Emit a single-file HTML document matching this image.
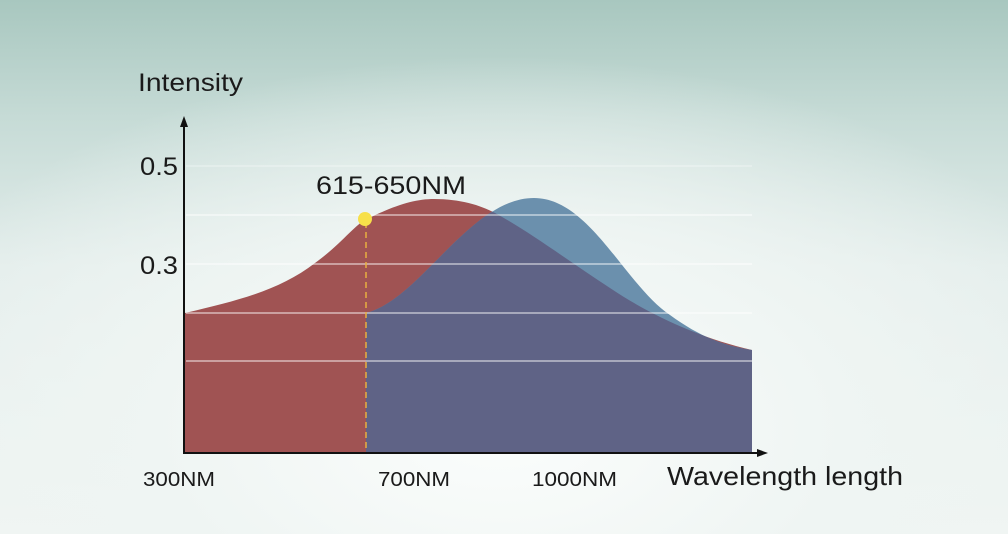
<!DOCTYPE html>
<html><head><meta charset="utf-8"><style>
html,body{margin:0;padding:0}
body{width:1008px;height:534px;overflow:hidden;font-family:"Liberation Sans",sans-serif;
background:radial-gradient(ellipse 760px 440px at 500px 430px,#fbfdfc 0%,#eff5f3 45%,rgba(230,238,235,0) 85%),
linear-gradient(180deg,#a8c7bf 0%,#c6dbd6 22%,#e3edeb 50%,#f0f5f3 100%);}
</style></head><body>
<svg width="1008" height="534" viewBox="0 0 1008 534" xmlns="http://www.w3.org/2000/svg" style="position:absolute;left:0;top:0">
<defs>
<clipPath id="rc"><path d="M185,313 C240,300 280,290 315,263 C340,245 355,225 365,220 C395,205 415,199 434,199 C460,199 480,205 495,213 C530,232 570,262 610,288 C650,315 700,338 752,350 L752,453 L185,453Z"/></clipPath>
</defs>
<path d="M185,313 C240,300 280,290 315,263 C340,245 355,225 365,220 C395,205 415,199 434,199 C460,199 480,205 495,213 C530,232 570,262 610,288 C650,315 700,338 752,350 L752,453 L185,453Z" fill="#a05353"/>
<path d="M366,313 C420,300 470,198 534,198 C590,198 625,285 670,315 C700,337 725,346 752,350 L752,453 L366,453Z" fill="#6b90ad"/>
<path d="M366,313 C420,300 470,198 534,198 C590,198 625,285 670,315 C700,337 725,346 752,350 L752,453 L366,453Z" fill="#5f6386" clip-path="url(#rc)"/>
<g stroke="#ffffff" stroke-opacity="0.45" stroke-width="2">
<line x1="186" y1="166" x2="752" y2="166" stroke-opacity="0.25"/>
<line x1="186" y1="215" x2="752" y2="215"/>
<line x1="186" y1="264" x2="752" y2="264"/>
<line x1="186" y1="313" x2="752" y2="313"/>
<line x1="186" y1="361" x2="752" y2="361"/>
</g>
<line x1="366" y1="222" x2="366" y2="453" stroke="#e8b040" stroke-width="1.5" stroke-dasharray="6,4"/>
<circle cx="365" cy="219" r="7" fill="#f7e04a"/>
<line x1="184" y1="124" x2="184" y2="454" stroke="#111" stroke-width="2"/>
<polygon points="184,116 180,127 188,127" fill="#111"/>
<line x1="184" y1="453" x2="760" y2="453" stroke="#111" stroke-width="2"/>
<polygon points="768,453 757,449 757,457" fill="#111"/>
<g fill="#1a1a1a">
<text x="138" y="91" font-size="25" textLength="105" lengthAdjust="spacingAndGlyphs">Intensity</text>
<text x="140" y="175" font-size="25" textLength="38" lengthAdjust="spacingAndGlyphs">0.5</text>
<text x="140" y="274" font-size="25" textLength="38" lengthAdjust="spacingAndGlyphs">0.3</text>
<text x="316" y="194" font-size="25" textLength="150" lengthAdjust="spacingAndGlyphs">615-650NM</text>
<text x="143" y="486" font-size="20" textLength="72" lengthAdjust="spacingAndGlyphs">300NM</text>
<text x="378" y="486" font-size="20" textLength="72" lengthAdjust="spacingAndGlyphs">700NM</text>
<text x="532" y="486" font-size="20" textLength="85" lengthAdjust="spacingAndGlyphs">1000NM</text>
<text x="667" y="485" font-size="26" textLength="236" lengthAdjust="spacingAndGlyphs">Wavelength length</text>
</g>
</svg>
</body></html>
